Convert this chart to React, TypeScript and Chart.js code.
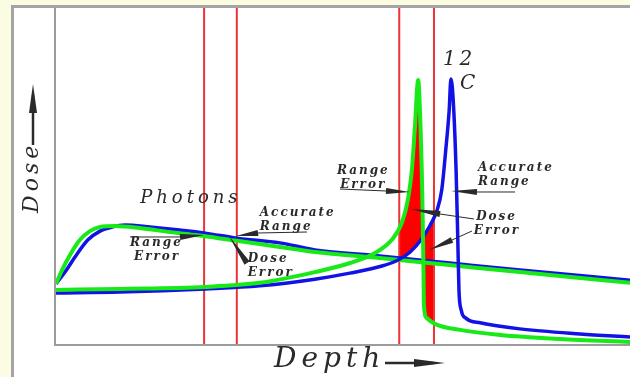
import { useEffect, useRef } from 'react';
import { Chart, registerables } from 'chart.js';

// ---- Axis ranges (relative depth / dose) ----
const depthRange = [0, 100];
const doseRange = [0, 100];

// ---- Curves: [depth, dose] ----
const photonBlue = [
  [0, 17.9], [1.57, 21.4], [3.31, 25.9], [5.57, 31.0], [7.67, 33.6], [9.76, 34.8], [12.0, 35.4],
  [16.4, 34.8], [21.6, 33.9], [26.0, 33.0], [31.5, 31.5], [39.0, 30.1], [45.1, 28.0],
  [56.4, 26.2], [68.6, 24.1], [80.8, 22.0], [100, 19.0],
];
const photonGreen = [
  [0, 17.9], [1.05, 22.0], [2.44, 26.5], [4.18, 31.0], [5.92, 33.6], [7.67, 34.8], [10.3, 35.1],
  [14.6, 34.5], [19.9, 33.3], [26.0, 32.1], [31.5, 30.7], [39.0, 28.9], [45.1, 27.4],
  [56.4, 25.6], [68.6, 23.5], [80.8, 21.4], [100, 18.2],
];
const carbonBlue = [
  [0, 15.2], [11.1, 15.5], [26.0, 16.4], [35.5, 17.3], [45.1, 19.3], [51.2, 21.1], [56.8, 23.2],
  [59.6, 25.0], [61.7, 27.4], [63.8, 31.5], [65.2, 35.4], [66.4, 39.9], [67.2, 45.8], [67.9, 57.7],
  [68.5, 69.6], [68.8, 78.9], [69.2, 72.6], [69.7, 51.8], [70.0, 31.0], [70.2, 16.1], [70.6, 10.1],
  [71.4, 7.7], [73.9, 6.3], [80.8, 4.5], [91.3, 3.0], [100, 2.1],
];
const carbonGreen = [
  [0, 16.1], [11.1, 16.4], [26.0, 17.0], [35.5, 18.2], [45.1, 21.4], [51.2, 24.1], [55.6, 27.1],
  [58.5, 31.0], [60.3, 36.3], [61.3, 42.9], [62.0, 51.8], [62.5, 63.7], [63.1, 78.6], [63.4, 69.6],
  [63.8, 45.8], [64.0, 25.0], [64.1, 11.6], [64.6, 7.7], [66.0, 6.0], [70.4, 4.2], [77.4, 2.7],
  [87.8, 1.5], [100, 0.6],
];

// ---- Red vertical marker depths ----
const markerDepths = [25.8, 31.5, 59.8, 65.85];

// ---- Annotation texts and their anchors [depth, dose] ----
const bigLabels = ['Photons', '12', 'C'];
const bigAnchors = [[23.2, 43.5], [67.4, 84.5], [70.4, 77.4]];
const smallLabels = ['Range', 'Error', 'Accurate', 'Range', 'Dose', 'Error', 'Range', 'Error', 'Accurate', 'Range', 'Dose', 'Error'];
const smallAnchors = [
  [12.9, 30.1], [13.6, 25.9], [35.5, 39.0], [35.5, 34.8], [33.4, 25.3], [33.4, 21.1],
  [48.95, 51.5], [49.5, 47.3], [73.5, 52.4], [73.5, 48.2], [73.2, 37.8], [72.8, 33.6],
];
// arrows: [start, wedgeStart, tip]
const arrowPaths = [
  [[12.89, 31.85], [21.6, 31.85], [25.78, 32.44]],
  [[43.73, 33.33], [35.19, 33.04], [31.36, 32.14]],
  [[33.28, 24.1], [33.28, 24.1], [30.14, 32.14]],
  [[49.48, 46.13], [57.49, 45.54], [61.67, 45.24]],
  [[79.97, 45.24], [73.34, 45.24], [68.82, 45.54]],
  [[72.82, 37.2], [66.9, 38.69], [61.85, 40.18]],
  [[72.47, 33.63], [68.99, 30.95], [64.98, 27.98]],
];
const axisTitles = ['Depth', 'Dose'];

const toPts = (arr: number[][]) => arr.map(([x, y]) => ({ x, y }));

const rangeClip = {
  id: 'rangeClip',
  beforeDatasetDraw(chart: any, args: any) {
    const ds = chart.data.datasets[args.index];
    if (!ds.clipRange) return;
    const xs = chart.scales.x;
    const a = chart.chartArea;
    const x0 = xs.getPixelForValue(ds.clipRange[0]);
    const x1 = xs.getPixelForValue(ds.clipRange[1]);
    chart.ctx.save();
    chart.ctx.beginPath();
    chart.ctx.rect(x0, a.top, x1 - x0, a.bottom - a.top);
    chart.ctx.clip();
  },
  afterDatasetDraw(chart: any, args: any) {
    if (chart.data.datasets[args.index].clipRange) chart.ctx.restore();
  },
};
Chart.register(rangeClip);
Chart.register(...registerables);

const SERIF = '"DejaVu Serif", serif';
const INK = '#2a2a2a';

const decor = {
  id: 'decor',
  beforeDraw(chart: any) {
    const { ctx, width, height } = chart;
    ctx.save();
    ctx.fillStyle = '#fcfce2';
    ctx.fillRect(0, 0, width, height);
    ctx.fillStyle = '#ffffff';
    ctx.fillRect(12, 6, width - 12, height - 6);
    ctx.strokeStyle = '#a4a4a4';
    ctx.lineWidth = 3;
    ctx.beginPath();
    ctx.moveTo(12.5, height);
    ctx.lineTo(12.5, 6.5);
    ctx.lineTo(width, 6.5);
    ctx.stroke();
    ctx.restore();
  },
  beforeDatasetsDraw(chart: any) {
    const { ctx, chartArea: a } = chart;
    ctx.save();
    ctx.strokeStyle = '#9c9c9c';
    ctx.lineWidth = 2;
    ctx.beginPath();
    ctx.moveTo(a.left - 1, a.top);
    ctx.lineTo(a.left - 1, a.bottom + 1);
    ctx.lineTo(a.right, a.bottom + 1);
    ctx.stroke();
    ctx.restore();
  },
  afterDatasetsDraw(chart: any) {
    const { ctx, chartArea: a } = chart;
    const xs = chart.scales.x;
    const ys = chart.scales.y;
    const px = (p: number[]) => [xs.getPixelForValue(p[0]), ys.getPixelForValue(p[1])];
    ctx.save();
    ctx.fillStyle = INK;
    ctx.strokeStyle = INK;
    ctx.textBaseline = 'middle';
    ctx.textAlign = 'left';

    // big labels
    bigLabels.forEach((t, i) => {
      const [x, y] = px(bigAnchors[i]);
      ctx.font = i === 0 ? `italic 18px ${SERIF}` : `italic 20px ${SERIF}`;
      (ctx as any).letterSpacing = i === 0 ? '4px' : i === 1 ? '4px' : '0px';
      ctx.fillText(t, x - (i === 0 ? 49 : 0), y);
    });

    // small labels
    ctx.font = `italic bold 12px ${SERIF}`;
    (ctx as any).letterSpacing = '2px';
    smallLabels.forEach((t, i) => {
      const [x, y] = px(smallAnchors[i]);
      ctx.fillText(t, x, y);
    });
    (ctx as any).letterSpacing = '0px';

    // arrows
    arrowPaths.forEach(([s, w, t]) => {
      const [sx, sy] = px(s);
      const [wx, wy] = px(w);
      const [tx, ty] = px(t);
      ctx.lineWidth = 1;
      ctx.beginPath();
      ctx.moveTo(sx, sy);
      ctx.lineTo(wx, wy);
      ctx.stroke();
      const dx = tx - wx, dy = ty - wy;
      const len = Math.hypot(dx, dy) || 1;
      const nx = -dy / len, ny = dx / len;
      const hw = 3;
      ctx.beginPath();
      ctx.moveTo(wx + nx * hw, wy + ny * hw);
      ctx.lineTo(tx, ty);
      ctx.lineTo(wx - nx * hw, wy - ny * hw);
      ctx.closePath();
      ctx.fill();
    });

    // x title: Depth ->
    ctx.textBaseline = 'alphabetic';
    ctx.font = `italic 28px ${SERIF}`;
    (ctx as any).letterSpacing = '5px';
    const dx0 = a.left + 218;
    const dy0 = a.bottom + 23;
    ctx.fillText(axisTitles[0], dx0, dy0);
    ctx.lineWidth = 2.5;
    ctx.beginPath();
    ctx.moveTo(dx0 + 111, dy0 - 4);
    ctx.lineTo(dx0 + 160, dy0 - 4);
    ctx.stroke();
    ctx.beginPath();
    ctx.moveTo(dx0 + 140, dy0 - 8);
    ctx.lineTo(dx0 + 171, dy0 - 4);
    ctx.lineTo(dx0 + 140, dy0);
    ctx.closePath();
    ctx.fill();

    // y title: Dose ->
    ctx.save();
    ctx.translate(a.left - 18, a.top + 205);
    ctx.rotate(-Math.PI / 2);
    ctx.font = `italic 22px ${SERIF}`;
    (ctx as any).letterSpacing = '4px';
    ctx.fillText(axisTitles[1], 0, 0);
    ctx.lineWidth = 2.5;
    ctx.beginPath();
    ctx.moveTo(68, -5);
    ctx.lineTo(118, -5);
    ctx.stroke();
    ctx.beginPath();
    ctx.moveTo(100, -9);
    ctx.lineTo(129, -5);
    ctx.lineTo(100, -1);
    ctx.closePath();
    ctx.fill();
    ctx.restore();

    ctx.restore();
  },
};

export default function App() {
  const ref = useRef<HTMLCanvasElement | null>(null);
  useEffect(() => {
    document.body.style.margin = '0';
    const canvas = ref.current;
    if (!canvas) return;
    const BLUE = '#1212e6';
    const GREEN = '#18ea18';
    const RED = '#ec3434';
    const datasets: any[] = [
      { label: 'carbonGreen', data: toPts(carbonGreen), borderColor: GREEN, borderWidth: 4, fill: false },
      { label: 'carbonBlue', data: toPts(carbonBlue), borderColor: BLUE, borderWidth: 3.5, fill: false },
      { label: 'photonGreen', data: toPts(photonGreen), borderColor: GREEN, borderWidth: 4, fill: false },
      { label: 'photonBlue', data: toPts(photonBlue), borderColor: BLUE, borderWidth: 3.5, fill: false },
      ...markerDepths.map((d) => ({
        label: 'marker',
        data: [{ x: d, y: doseRange[0] }, { x: d, y: doseRange[1] }],
        borderColor: RED,
        borderWidth: 2,
        fill: false,
      })),
      {
        label: 'rangeFill',
        data: toPts(carbonGreen),
        borderWidth: 0,
        borderColor: 'rgba(0,0,0,0)',
        backgroundColor: '#ff0000',
        fill: 1,
        clipRange: [markerDepths[2], markerDepths[3]],
      },
    ];
    const chart = new Chart(canvas, {
      type: 'line',
      data: { datasets },
      options: {
        responsive: false,
        animation: false,
        events: [],
        layout: { padding: { left: 56, top: 8, right: 0, bottom: 33 } },
        plugins: {
          legend: { display: false },
          tooltip: { enabled: false },
        },
        elements: {
          point: { radius: 0 },
          line: { cubicInterpolationMode: 'monotone' },
        },
        scales: {
          x: { type: 'linear', min: depthRange[0], max: depthRange[1], display: false },
          y: { type: 'linear', min: doseRange[0], max: doseRange[1], display: false },
        },
      } as any,
      plugins: [decor],
    });
    return () => chart.destroy();
  }, []);
  return <canvas ref={ref} width={630} height={377} style={{ display: 'block' }} />;
}
